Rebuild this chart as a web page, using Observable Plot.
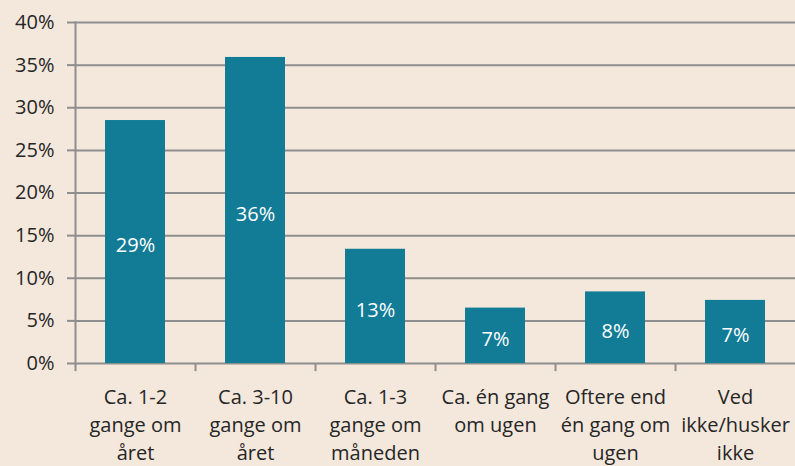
<!DOCTYPE html>
<html>
<head>
<meta charset="utf-8">
<script src="https://cdn.jsdelivr.net/npm/d3@7"></script>
<script src="https://cdn.jsdelivr.net/npm/@observablehq/plot@0.6"></script>
<style>
  html, body { margin: 0; padding: 0; background: #f4e8dc; }
  #chart svg { display: block; background: #f4e8dc; }
</style>
</head>
<body>
<div id="chart"></div>
<script>
const categories = [
  "Ca. 1-2\ngange om\nåret",
  "Ca. 3-10\ngange om\nåret",
  "Ca. 1-3\ngange om\nmåneden",
  "Ca. én gang\nom ugen",
  "Oftere end\nén gang om\nugen",
  "Ved\nikke/husker\nikke"
];
const values = [28.5, 35.9, 13.4, 6.5, 8.4, 7.4];
const valueLabels = ["29%", "36%", "13%", "7%", "8%", "7%"];
const yTicks = [0, 5, 10, 15, 20, 25, 30, 35, 40];

const data = categories.map((c, i) => ({cat: c, value: values[i], label: valueLabels[i]}));

const gridColor = "#8e8e8e";
const barColor = "#127c97";
const textColor = "#262626";

const chart = Plot.plot({
  width: 795,
  height: 466,
  marginLeft: 75,
  marginRight: 0,
  marginTop: 22,
  marginBottom: 103,
  style: {background: "#f4e8dc", fontFamily: "'Open Sans', sans-serif", fontSize: "20px", color: textColor},
  x: {domain: categories, paddingInner: 0.5, paddingOuter: 0.25, axis: null},
  y: {domain: [0, 40], axis: null},
  marks: [
    Plot.ruleY(yTicks, {stroke: gridColor, strokeWidth: 2}),
    Plot.axisY({ticks: yTicks, label: null, tickSize: 8, tickPadding: 13, tickFormat: d => d + "%", stroke: gridColor, strokeWidth: 2, fill: textColor, fontSize: 20, strokeOpacity: 1}),
    Plot.barY(data, {x: "cat", y: "value", fill: barColor}),
    Plot.frame({anchor: "left", stroke: gridColor, strokeWidth: 2, strokeOpacity: 1}),
    Plot.ruleX(categories, {x: d => d, dx: -60, y1: 0, y2: -0.95, stroke: gridColor, strokeWidth: 2}),
    Plot.text(data, {x: "cat", y: d => d.value / 2, text: "label", fill: "white", fontSize: 20, dy: 4}),
    Plot.text(data, {x: "cat", y: 0, text: "cat", lineAnchor: "top", lineHeight: 1.4, dy: 21, fill: textColor, fontSize: 20})
  ]
});
document.getElementById("chart").appendChild(chart);
</script>
</body>
</html>
